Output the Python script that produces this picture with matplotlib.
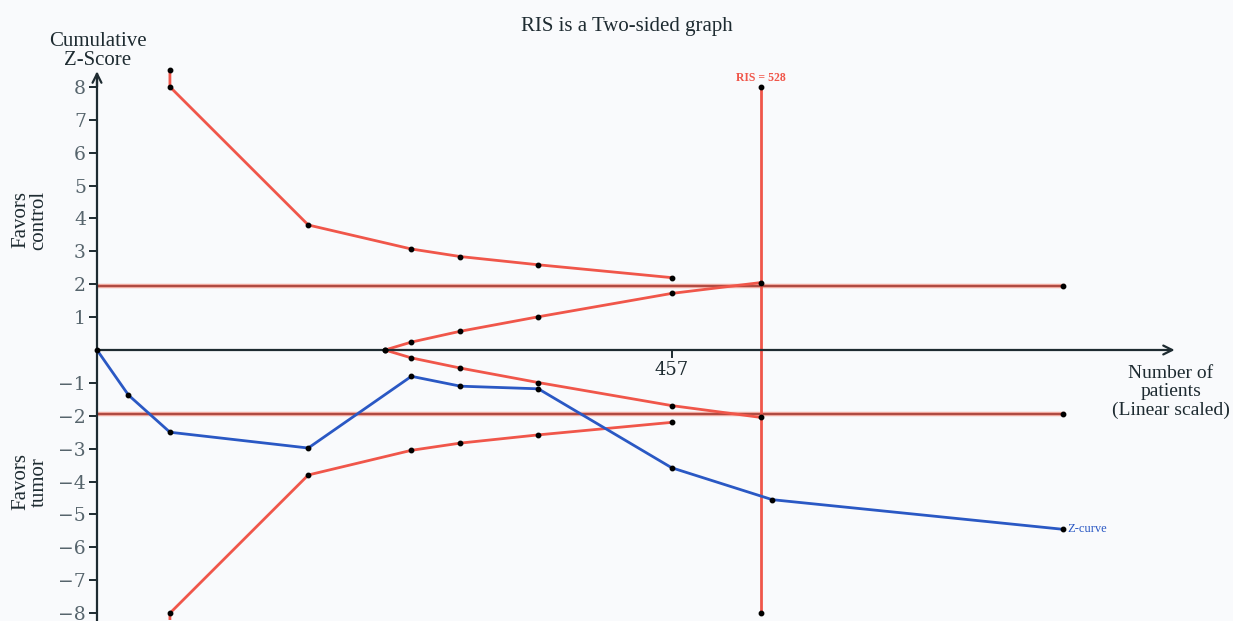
#!/usr/bin/env python
"""
trial sequential analysis plot: cumulative Z-curve with monitoring
and futility boundaries, required information size (RIS) marked
"""

import numpy as np
import matplotlib
matplotlib.use('Agg')
import matplotlib.pyplot as plt

# cumulative Z-curve (patients, z)
z_patients = [0, 25, 58, 168, 250, 289, 351, 457, 537, 768]
z_score = [0, -1.37, -2.50, -2.98, -0.80, -1.10, -1.18, -3.58, -4.55, -5.45]

# O'Brien-Fleming type monitoring boundaries (symmetric)
bound_patients = [58, 58, 168, 250, 289, 351, 457]
bound_upper = [8.5, 8.0, 3.80, 3.07, 2.84, 2.59, 2.20]
bound_lower = [-8.5, -8.0, -3.80, -3.05, -2.83, -2.58, -2.20]

# futility (inner wedge) boundaries
fut_patients = [229, 250, 289, 351, 457, 528]
fut_upper = [0, 0.24, 0.57, 1.01, 1.72, 2.05]
fut_lower = [0, -0.24, -0.55, -0.99, -1.69, -2.05]

ris = 528
ris_span = [-8, 8]
conv_z = 1.96
max_patients = 768
yticks = [-8, -7, -6, -5, -4, -3, -2, -1, 1, 2, 3, 4, 5, 6, 7, 8]

RED = '#f0564a'
DARKRED = '#a8413a'
BLUE = '#2a58c4'
INK = '#1e2b31'
TICKCOL = '#56646c'
SERIF = ['Liberation Serif', 'DejaVu Serif']

fig = plt.figure(figsize=(12.33, 6.21), dpi=100)
fig.patch.set_facecolor('#f9fafc')
ax = fig.add_axes([97 / 1233., 0.6 / 621, 1094 / 1233., 556.6 / 621])
ax.set_facecolor('none')
ax.set_xlim(0, 870)
ax.set_ylim(-8.22, 8.7)

dot = dict(marker='o', markersize=3.2, markerfacecolor='black',
           markeredgecolor='black', clip_on=False, zorder=6)

# conventional boundaries at +/-1.96
for sgn in (1, -1):
    ax.plot([0, max_patients], [sgn * conv_z] * 2, color='#f0a89e', lw=3.2, zorder=2)
    ax.plot([0, max_patients], [sgn * conv_z] * 2, color=DARKRED, lw=1.3, zorder=2)
    ax.plot([max_patients], [sgn * conv_z], linestyle='none', **dot)

# RIS line
ax.plot([ris, ris], ris_span, color=RED, lw=2.0, zorder=3)
ax.plot([ris, ris], ris_span, linestyle='none', **dot)
ax.text(ris, 8.27, 'RIS = 528', color=RED, fontsize=8.5, ha='center',
        va='center', family=SERIF, fontweight='bold')

# monitoring boundaries
ax.plot(bound_patients, bound_upper, color=RED, lw=2.0, zorder=3)
ax.plot(bound_patients, bound_lower, color=RED, lw=2.0, zorder=3)
ax.plot(bound_patients[1:], bound_upper[1:], linestyle='none', **dot)
ax.plot(bound_patients[1:], bound_lower[1:], linestyle='none', **dot)
ax.plot([bound_patients[0]], [bound_upper[0]], linestyle='none', **dot)

# futility wedge
ax.plot(fut_patients, fut_upper, color=RED, lw=2.0, zorder=3)
ax.plot(fut_patients, fut_lower, color=RED, lw=2.0, zorder=3)
ax.plot(fut_patients, fut_upper, linestyle='none', **dot)
ax.plot(fut_patients, fut_lower, linestyle='none', **dot)

# Z-curve
ax.plot(z_patients, z_score, color=BLUE, lw=2.0, zorder=4)
ax.plot(z_patients, z_score, linestyle='none', **dot)
ax.text(z_patients[-1] + 4, z_score[-1], 'Z-curve', color=BLUE, fontsize=9,
        ha='left', va='center', family=SERIF)

# axes drawn through the origin, with arrow heads
for s in ['top', 'right', 'bottom']:
    ax.spines[s].set_visible(False)
ax.spines['left'].set_position(('data', 0))
ax.spines['left'].set_bounds(-8.22, 8.4)
ax.spines['left'].set_color(INK)
ax.spines['left'].set_linewidth(1.6)
ax.annotate('', xy=(0, 8.47), xytext=(0, 8.0),
            arrowprops=dict(arrowstyle='->', color=INK, lw=1.6,
                            mutation_scale=16, shrinkA=0, shrinkB=0))
ax.annotate('', xy=(857, 0), xytext=(0, 0),
            arrowprops=dict(arrowstyle='->', color=INK, lw=1.6,
                            mutation_scale=16, shrinkA=0, shrinkB=0),
            zorder=5)

ax.set_yticks(yticks)
ax.set_yticklabels([str(t).replace('-', '\u2212') for t in yticks],
                   family=['DejaVu Serif'], fontsize=13.5, color=TICKCOL)
ax.tick_params(axis='y', length=6, width=1.4, color=INK, pad=2)
ax.set_xticks([])

# 457 tick on the horizontal axis
ax.plot([457, 457], [0, -0.22], color=INK, lw=1.4, zorder=5)
ax.text(457, -0.6, '457', fontsize=13, ha='center', va='center',
        color=INK, family=['DejaVu Serif'])

fig.text(627 / 1233., 1 - 27 / 621., 'RIS is a Two-sided graph', fontsize=15,
         ha='center', va='center', color=INK, family=SERIF)
fig.text(98 / 1233., 1 - 51 / 621., 'Cumulative\nZ-Score', fontsize=15,
         ha='center', va='center', color=INK, family=SERIF, linespacing=1.03)
fig.text(1171 / 1233., 1 - 392 / 621., 'Number of\npatients\n(Linear scaled)',
         fontsize=14, ha='center', va='center', color=INK, family=SERIF,
         linespacing=1.07)
fig.text(30 / 1233., 1 - 220 / 621., 'Favors\ncontrol', fontsize=15,
         rotation=90, ha='center', va='center', color=INK, family=SERIF,
         linespacing=0.95)
fig.text(30 / 1233., 1 - 482 / 621., 'Favors\ntumor', fontsize=15,
         rotation=90, ha='center', va='center', color=INK, family=SERIF,
         linespacing=0.95)

plt.savefig('out.png', dpi=100, facecolor=fig.get_facecolor())
